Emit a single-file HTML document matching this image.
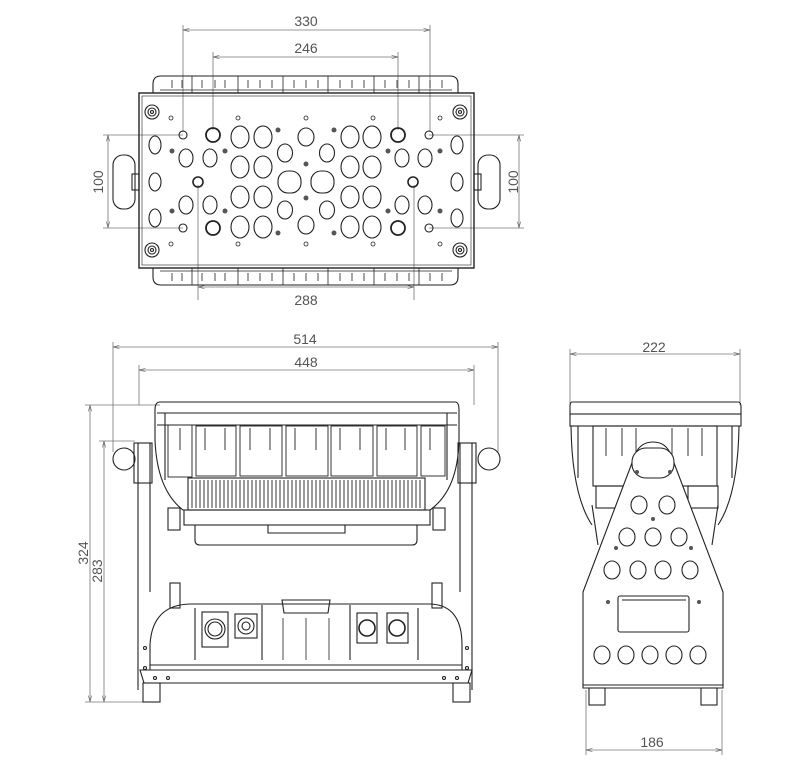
<!DOCTYPE html>
<html><head><style>
html,body{margin:0;padding:0;background:#fff;}
svg{display:block;}
text{font-family:"Liberation Sans",sans-serif;font-size:14px;fill:#555;}
</style></head><body>
<svg width="800" height="764" viewBox="0 0 800 764" xmlns="http://www.w3.org/2000/svg">
<defs>
<marker id="a" markerWidth="8" markerHeight="6" refX="8" refY="3" orient="auto-start-reverse"><path d="M0,1 L8,3 L0,5" fill="none" stroke="#666" stroke-width="0.8"/></marker>
</defs>
<!-- ===== DIMENSIONS ===== -->
<g stroke="#777" stroke-width="0.8" fill="none">
<line x1="183" y1="30" x2="430" y2="30" marker-start="url(#a)" marker-end="url(#a)"/>
<line x1="183" y1="25" x2="183" y2="132"/><line x1="430" y1="25" x2="430" y2="132"/>
<line x1="213" y1="57" x2="398" y2="57" marker-start="url(#a)" marker-end="url(#a)"/>
<line x1="213" y1="52" x2="213" y2="130"/><line x1="398" y1="52" x2="398" y2="130"/>
<line x1="198" y1="287" x2="414" y2="287" marker-start="url(#a)" marker-end="url(#a)"/>
<line x1="198" y1="185" x2="198" y2="300"/><line x1="414" y1="185" x2="414" y2="300"/>
<line x1="108" y1="135" x2="108" y2="228" marker-start="url(#a)" marker-end="url(#a)"/>
<line x1="103" y1="135" x2="183" y2="135"/><line x1="103" y1="228" x2="183" y2="228"/>
<line x1="519" y1="135" x2="519" y2="228" marker-start="url(#a)" marker-end="url(#a)"/>
<line x1="429" y1="135" x2="524" y2="135"/><line x1="429" y1="228" x2="524" y2="228"/>
<line x1="113" y1="347" x2="498" y2="347" marker-start="url(#a)" marker-end="url(#a)"/>
<line x1="113" y1="342" x2="113" y2="452"/><line x1="498" y1="342" x2="498" y2="452"/>
<line x1="139" y1="370" x2="474" y2="370" marker-start="url(#a)" marker-end="url(#a)"/>
<line x1="139" y1="365" x2="139" y2="405"/><line x1="474" y1="365" x2="474" y2="405"/>
<line x1="90" y1="405" x2="90" y2="702" marker-start="url(#a)" marker-end="url(#a)"/>
<line x1="85" y1="405" x2="160" y2="405"/><line x1="85" y1="702" x2="145" y2="702"/>
<line x1="104" y1="441" x2="104" y2="702" marker-start="url(#a)" marker-end="url(#a)"/>
<line x1="99" y1="441" x2="135" y2="441"/>
<line x1="570" y1="354" x2="740" y2="354" marker-start="url(#a)" marker-end="url(#a)"/>
<line x1="570" y1="349" x2="570" y2="405"/><line x1="740" y1="349" x2="740" y2="405"/>
<line x1="586" y1="750" x2="722" y2="750" marker-start="url(#a)" marker-end="url(#a)"/>
<line x1="586" y1="690" x2="586" y2="755"/><line x1="722" y1="690" x2="722" y2="755"/>
</g>
<text x="306" y="26" text-anchor="middle">330</text>
<text x="306" y="53" text-anchor="middle">246</text>
<text x="306" y="305" text-anchor="middle">288</text>
<text transform="translate(103,182) rotate(-90)" text-anchor="middle">100</text>
<text transform="translate(518,182) rotate(-90)" text-anchor="middle">100</text>
<text x="305" y="344" text-anchor="middle">514</text>
<text x="306" y="367" text-anchor="middle">448</text>
<text transform="translate(88,553) rotate(-90)" text-anchor="middle">324</text>
<text transform="translate(102,571) rotate(-90)" text-anchor="middle">283</text>
<text x="654" y="352" text-anchor="middle">222</text>
<text x="652" y="747" text-anchor="middle">186</text>

<!-- ===== TOP VIEW ===== -->
<g stroke="#222" stroke-width="1.1" fill="none">
<path d="M153,93 V84 Q153,76 161,76 H450 Q458,76 458,84 V93"/>
<path d="M153,268 V277 Q153,285 161,285 H450 Q458,285 458,277 V268"/>
<g stroke-width="0.8">
<line x1="192" y1="76" x2="192" y2="93"/><line x1="238" y1="76" x2="238" y2="93"/><line x1="283" y1="76" x2="283" y2="93"/><line x1="328" y1="76" x2="328" y2="93"/><line x1="374" y1="76" x2="374" y2="93"/><line x1="419" y1="76" x2="419" y2="93"/>
<line x1="192" y1="268" x2="192" y2="285"/><line x1="238" y1="268" x2="238" y2="285"/><line x1="283" y1="268" x2="283" y2="285"/><line x1="328" y1="268" x2="328" y2="285"/><line x1="374" y1="268" x2="374" y2="285"/><line x1="419" y1="268" x2="419" y2="285"/>
<path d="M172,80v8M182,80v8M202,80v8M215,80v8M225,80v8M248,80v8M260,80v8M272,80v8M294,80v8M306,80v8M318,80v8M340,80v8M352,80v8M364,80v8M385,80v8M397,80v8M409,80v8M430,80v8M442,80v8"/>
<path d="M172,273v8M182,273v8M202,273v8M215,273v8M225,273v8M248,273v8M260,273v8M272,273v8M294,273v8M306,273v8M318,273v8M340,273v8M352,273v8M364,273v8M385,273v8M397,273v8M409,273v8M430,273v8M442,273v8"/>
<line x1="160" y1="90" x2="452" y2="90"/><line x1="160" y1="271" x2="452" y2="271"/>
</g>
<rect x="139" y="93" width="335" height="175" stroke-width="1.4"/>
<rect x="142" y="96" width="329" height="169" stroke-width="0.6"/>
<rect x="113" y="155" width="22" height="54" rx="10"/>
<rect x="478" y="155" width="22" height="54" rx="10"/>
<rect x="132" y="174" width="7" height="16"/><rect x="474" y="174" width="7" height="16"/>
<!-- corner screws -->
<circle cx="152" cy="112" r="7"/><circle cx="152" cy="112" r="4"/><circle cx="152" cy="112" r="1.5"/>
<circle cx="460" cy="112" r="7"/><circle cx="460" cy="112" r="4"/><circle cx="460" cy="112" r="1.5"/>
<circle cx="152" cy="250" r="7"/><circle cx="152" cy="250" r="4"/><circle cx="152" cy="250" r="1.5"/>
<circle cx="460" cy="250" r="7"/><circle cx="460" cy="250" r="4"/><circle cx="460" cy="250" r="1.5"/>
<!-- side slots -->
<ellipse cx="155" cy="145" rx="6" ry="9"/><ellipse cx="155" cy="182" rx="6" ry="9"/><ellipse cx="155" cy="218" rx="6" ry="9"/>
<ellipse cx="457" cy="145" rx="6" ry="9"/><ellipse cx="457" cy="182" rx="6" ry="9"/><ellipse cx="457" cy="218" rx="6" ry="9"/>
<!-- big circles -->
<g>
<ellipse cx="240" cy="137" rx="9" ry="11"/><ellipse cx="263" cy="137" rx="9" ry="11"/><ellipse cx="350" cy="137" rx="9" ry="11"/><ellipse cx="372" cy="137" rx="9" ry="11"/>
<ellipse cx="240" cy="167" rx="9" ry="11"/><ellipse cx="263" cy="167" rx="9" ry="11"/><ellipse cx="350" cy="167" rx="9" ry="11"/><ellipse cx="372" cy="167" rx="9" ry="11"/>
<ellipse cx="240" cy="197" rx="9" ry="11"/><ellipse cx="263" cy="197" rx="9" ry="11"/><ellipse cx="350" cy="197" rx="9" ry="11"/><ellipse cx="372" cy="197" rx="9" ry="11"/>
<ellipse cx="240" cy="227" rx="9" ry="11"/><ellipse cx="263" cy="227" rx="9" ry="11"/><ellipse cx="350" cy="227" rx="9" ry="11"/><ellipse cx="372" cy="227" rx="9" ry="11"/>
<ellipse cx="186" cy="158" rx="7" ry="9"/><ellipse cx="210" cy="158" rx="7" ry="9"/><ellipse cx="186" cy="205" rx="7" ry="9"/><ellipse cx="210" cy="205" rx="7" ry="9"/>
<ellipse cx="402" cy="158" rx="7" ry="9"/><ellipse cx="425" cy="158" rx="7" ry="9"/><ellipse cx="402" cy="205" rx="7" ry="9"/><ellipse cx="425" cy="205" rx="7" ry="9"/>
<ellipse cx="285" cy="153" rx="7.5" ry="9"/><ellipse cx="327" cy="153" rx="7.5" ry="9"/><ellipse cx="285" cy="210" rx="7.5" ry="9"/><ellipse cx="327" cy="210" rx="7.5" ry="9"/>
<rect x="278" y="171" width="23" height="22" rx="10"/><rect x="311" y="171" width="23" height="22" rx="10"/>
<ellipse cx="306" cy="137" rx="8" ry="9"/><ellipse cx="306" cy="225" rx="8" ry="9"/>
</g>
<g stroke-width="1.8">
<circle cx="213" cy="135" r="7"/><circle cx="213" cy="228" r="7"/><circle cx="398" cy="135" r="7"/><circle cx="398" cy="228" r="7"/>
</g>
<circle cx="183" cy="135" r="4"/><circle cx="183" cy="228" r="4"/><circle cx="429" cy="135" r="4"/><circle cx="429" cy="228" r="4"/>
<circle cx="198" cy="182" r="5" stroke-width="1.6"/><circle cx="413" cy="182" r="5" stroke-width="1.6"/>
<g stroke-width="0.8">
<circle cx="171" cy="118" r="2"/><circle cx="238" cy="118" r="2"/><circle cx="306" cy="118" r="2"/><circle cx="373" cy="118" r="2"/><circle cx="440" cy="118" r="2"/>
<circle cx="171" cy="244" r="2"/><circle cx="238" cy="244" r="2"/><circle cx="306" cy="244" r="2"/><circle cx="373" cy="244" r="2"/><circle cx="440" cy="244" r="2"/>
</g>
<g fill="#555" stroke="none">
<circle cx="172" cy="151" r="2.5"/><circle cx="225" cy="151" r="2.5"/><circle cx="172" cy="211" r="2.5"/><circle cx="225" cy="211" r="2.5"/>
<circle cx="388" cy="151" r="2.5"/><circle cx="440" cy="151" r="2.5"/><circle cx="388" cy="211" r="2.5"/><circle cx="440" cy="211" r="2.5"/>
<circle cx="278" cy="130" r="2.5"/><circle cx="334" cy="130" r="2.5"/><circle cx="278" cy="233" r="2.5"/><circle cx="334" cy="233" r="2.5"/>
<circle cx="306" cy="164" r="2.5"/><circle cx="306" cy="198" r="2.5"/>
</g>
</g>

<!-- ===== FRONT VIEW ===== -->
<g stroke="#222" stroke-width="1.1" fill="none">
<!-- pivots -->
<rect x="113" y="448" width="22" height="22" rx="11"/><rect x="478" y="448" width="22" height="22" rx="11"/>
<!-- yoke -->
<path d="M138,443 V690 M150,443 V592 M472,443 V690 M460,443 V592"/>
<rect x="134" y="443" width="18" height="40"/><rect x="458" y="443" width="18" height="40"/>
<!-- head -->
<path d="M160,402 H455 Q459,402 459,410 V440 Q458,490 430,510 H183 Q157,490 155,440 V410 Q155,402 160,402 Z"/>
<line x1="157" y1="413" x2="457" y2="413"/><line x1="157" y1="425" x2="457" y2="425"/>
<line x1="165" y1="413" x2="165" y2="480"/><line x1="447" y1="413" x2="447" y2="480"/>
<g stroke-width="0.9">
<rect x="168" y="425" width="24" height="52"/><rect x="196" y="426" width="40" height="50"/><rect x="240" y="426" width="42" height="50"/><rect x="286" y="426" width="42" height="50"/><rect x="331" y="426" width="42" height="50"/><rect x="377" y="426" width="40" height="50"/><rect x="421" y="426" width="24" height="50"/>
<path d="M180,428v22M205,428v22M225,428v22M250,428v22M270,428v22M295,428v22M316,428v22M340,428v22M360,428v22M386,428v22M405,428v22M430,428v22"/>
</g>
<rect x="188" y="478" width="237" height="32"/>
<path d="M192,480v28M196,480v28M200,480v28M204,480v28M208,480v28M212,480v28M216,480v28M220,480v28M224,480v28M228,480v28M232,480v28M236,480v28M240,480v28M244,480v28M248,480v28M252,480v28M256,480v28M260,480v28M264,480v28M268,480v28M272,480v28M276,480v28M280,480v28M284,480v28M288,480v28M292,480v28M296,480v28M300,480v28M304,480v28M308,480v28M312,480v28M316,480v28M320,480v28M324,480v28M328,480v28M332,480v28M336,480v28M340,480v28M344,480v28M348,480v28M352,480v28M356,480v28M360,480v28M364,480v28M368,480v28M372,480v28M376,480v28M380,480v28M384,480v28M388,480v28M392,480v28M396,480v28M400,480v28M404,480v28M408,480v28M412,480v28M416,480v28M420,480v28" stroke-width="0.9"/>
<rect x="184" y="510" width="246" height="15"/>
<path d="M195,525 V540 Q195,545 200,545 H412 Q417,545 417,540 V525"/>
<path d="M268,525 V533 H345 V525"/>
<rect x="168" y="508" width="12" height="22"/><rect x="433" y="508" width="12" height="22"/>
<!-- base -->
<rect x="170" y="583" width="10" height="25"/><rect x="432" y="583" width="10" height="25"/>
<path d="M150,670 V645 Q152,605 190,604 H430 Q462,605 462,645 V670"/>
<path d="M140,670 H472 L468,683 H144 Z"/>
<rect x="143" y="683" width="17" height="19"/><rect x="453" y="683" width="17" height="19"/>
<path d="M195,608 V660 M262,605 V660 M350,605 V660 M418,608 V660"/>
<path d="M282,600 H330 L328,613 H284 Z"/>
<path d="M283,618v42M306,618v42M329,618v42" stroke-width="0.8"/>
<rect x="202" y="612" width="26" height="35"/><circle cx="215" cy="629" r="10"/><circle cx="215" cy="629" r="7"/>
<rect x="235" y="614" width="22" height="24"/><circle cx="246" cy="626" r="8"/><circle cx="246" cy="626" r="4"/>
<rect x="357" y="613" width="20" height="30"/><circle cx="367" cy="628" r="8" stroke-width="1.6"/>
<rect x="387" y="613" width="21" height="30"/><circle cx="397" cy="628" r="8" stroke-width="1.6"/>
<line x1="150" y1="665" x2="462" y2="665"/>
<circle cx="145" cy="648" r="1.5"/><circle cx="145" cy="668" r="1.5"/><circle cx="467" cy="648" r="1.5"/><circle cx="467" cy="668" r="1.5"/>
<circle cx="155" cy="678" r="1.5"/><circle cx="168" cy="678" r="1.5"/><circle cx="444" cy="678" r="1.5"/><circle cx="457" cy="678" r="1.5"/>
</g>

<!-- ===== SIDE VIEW ===== -->
<g stroke="#222" stroke-width="1.1" fill="none">
<path d="M572,402 H738 Q741,402 741,407 V414 H570 V407 Q570,402 572,402 Z"/>
<rect x="570" y="414" width="171" height="12"/>
<path d="M571,426 Q572,495 592,525 M739,426 Q738,495 718,525"/>
<path d="M578,426 V478 M732,426 V478"/>
<rect x="593" y="426" width="124" height="60"/>
<path d="M606,428v28M622,428v28M636,428v28M672,428v28M688,428v28M702,428v28" stroke-width="0.9"/>
<rect x="596" y="486" width="30" height="22"/><rect x="688" y="486" width="30" height="22"/>
<path d="M592,505 L598,545 M718,505 L712,545"/>
<!-- yoke plate -->
<path d="M653,442 Q640,442 635,455 L583,592 V688 H723 V592 L671,455 Q666,442 653,442 Z" fill="#fff"/>
<rect x="632" y="448" width="42" height="30" rx="14" fill="#fff"/>
<line x1="583" y1="685" x2="723" y2="685"/>
<rect x="589" y="688" width="16" height="17"/><rect x="701" y="688" width="16" height="17"/>
<ellipse cx="639" cy="505" rx="8" ry="9"/><ellipse cx="667" cy="505" rx="8" ry="9"/>
<ellipse cx="627" cy="537" rx="8" ry="9"/><ellipse cx="653" cy="537" rx="8" ry="9"/><ellipse cx="679" cy="537" rx="8" ry="9"/>
<ellipse cx="612" cy="570" rx="8" ry="9"/><ellipse cx="638" cy="570" rx="8" ry="9"/><ellipse cx="663" cy="570" rx="8" ry="9"/><ellipse cx="690" cy="570" rx="8" ry="9"/>
<rect x="618" y="596" width="71" height="36" rx="2"/><line x1="622" y1="600" x2="686" y2="600"/>
<ellipse cx="602" cy="655" rx="8" ry="9"/><ellipse cx="626" cy="655" rx="8" ry="9"/><ellipse cx="650" cy="655" rx="8" ry="9"/><ellipse cx="674" cy="655" rx="8" ry="9"/><ellipse cx="698" cy="655" rx="8" ry="9"/>
<g fill="#555" stroke="none"><circle cx="637" cy="472" r="2"/><circle cx="670" cy="472" r="2"/><circle cx="653" cy="519" r="2"/><circle cx="616" cy="548" r="2"/><circle cx="691" cy="548" r="2"/><circle cx="608" cy="602" r="2"/><circle cx="699" cy="602" r="2"/></g>
</g>
</svg>
</body></html>
